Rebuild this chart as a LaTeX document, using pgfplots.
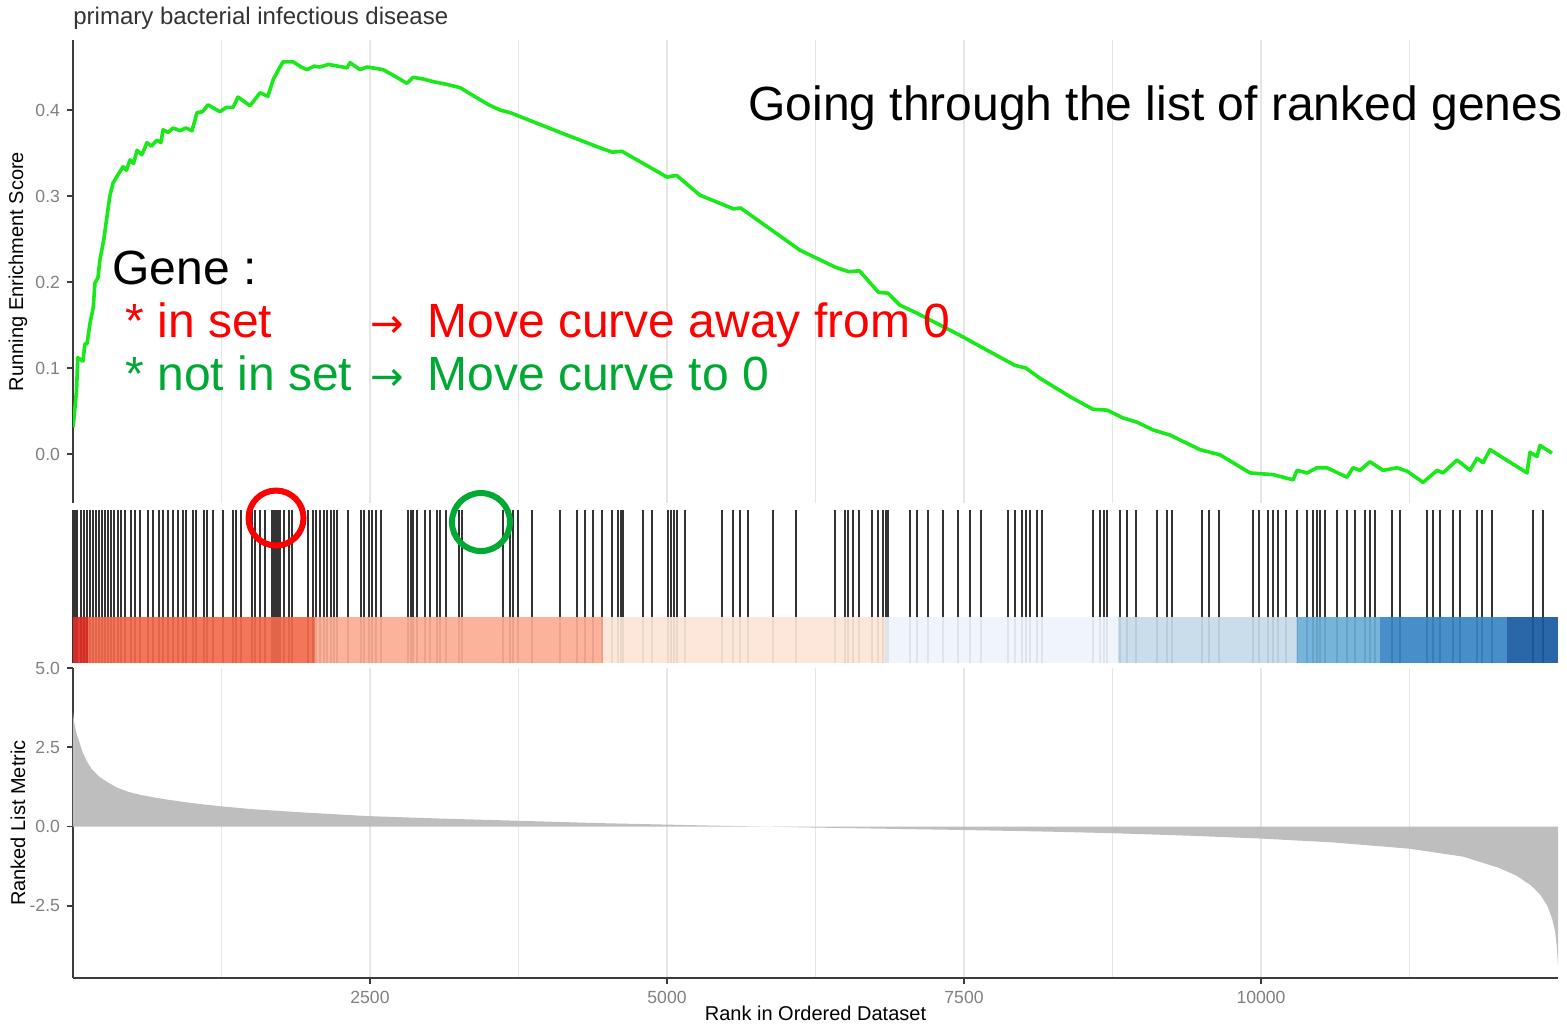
\documentclass[border=0pt]{standalone}
\usepackage{fontspec}
\setmainfont{Liberation Sans}
\newfontfamily\arrowfont{DejaVu Sans}
\usepackage{pgfplots}
\pgfplotsset{compat=1.18}
\definecolor{tickgray}{RGB}{128,128,128}
\definecolor{labgray}{RGB}{51,51,51}
\definecolor{axgray}{RGB}{60,60,60}
\definecolor{gridgray}{RGB}{230,230,230}
\definecolor{esgreen}{RGB}{25,232,25}
\definecolor{areagray}{RGB}{190,190,190}
\definecolor{annred}{RGB}{255,0,0}
\definecolor{anngreen}{RGB}{0,169,51}
\definecolor{b1}{RGB}{222,45,38}
\definecolor{b2}{RGB}{242,105,76}
\definecolor{b3}{RGB}{251,172,148}
\definecolor{b4}{RGB}{253,229,216}
\definecolor{b5}{RGB}{239,243,252}
\definecolor{b6}{RGB}{196,218,232}
\definecolor{b7}{RGB}{107,174,214}
\definecolor{b8}{RGB}{56,132,196}
\definecolor{b9}{RGB}{24,90,162}
\pgfplotsset{
  gsea/.style={
    scale only axis, width=742.5pt, anchor=south west,
    xmin=0, xmax=12500, scaled x ticks=false, scaled y ticks=false,
    /pgf/number format/assume math mode=true,
    tick label style={font=\fontsize{8.8}{10}\selectfont, text=tickgray},
    label style={font=\fontsize{10}{12}\selectfont, text=labgray},
    axis x line*=bottom, axis y line*=left,
    axis line style={-, draw=axgray, line width=0.9pt},
    tick style={draw=axgray, line width=0.8pt},
    tick align=outside, major tick length=3pt, minor tick length=0pt,
    xtick={2500,5000,7500,10000},
    minor xtick={1250,3750,6250,8750,11250},
    xmajorgrids, xminorgrids,
    major grid style={draw=gridgray, line width=0.6pt},
    minor grid style={draw=gridgray, line width=0.6pt},
    every axis y label/.style={at={(rel axis cs:-0.0370,0.5)}, rotate=90, anchor=center},
  }
}
\begin{document}
\begin{tikzpicture}
\useasboundingbox (0,0) rectangle (783.5pt,512pt);

% ---------- top panel: running enrichment score ----------
\begin{axis}[gsea, at={(36.5pt,260.5pt)}, height=231.5pt,
  ymin=-0.05698, ymax=0.4814,
  ytick={0,0.1,0.2,0.3,0.4}, yticklabels={0.0,0.1,0.2,0.3,0.4},
  xticklabels={}, major x tick style={draw=none},
  x axis line style={draw=none},
  ylabel={Running Enrichment Score},
]
\addplot[esgreen, line width=1.8pt, line join=round] coordinates {
(1,0.031)(30,0.074)(40,0.112)(84,0.108)(100,0.128)(118,0.128)(143,0.152)
(170,0.170)(185,0.199)(210,0.205)(227,0.226)(260,0.250)(286,0.276)(310,0.300)
(337,0.315)(380,0.325)(421,0.334)(450,0.330)(480,0.342)(510,0.338)(539,0.353)
(580,0.348)(623,0.362)(660,0.358)(707,0.365)(740,0.362)(758,0.377)(800,0.374)
(842,0.379)(900,0.376)(950,0.379)(1002,0.376)(1044,0.397)(1090,0.398)(1136,0.406)
(1237,0.398)(1290,0.403)(1347,0.403)(1389,0.415)(1490,0.405)(1530,0.412)(1574,0.420)
(1641,0.416)(1684,0.435)(1730,0.447)(1768,0.456)(1852,0.456)(1920,0.450)(1970,0.447)
(2030,0.451)(2079,0.450)(2150,0.453)(2189,0.452)(2270,0.450)(2306,0.449)(2332,0.455)
(2416,0.447)(2475,0.450)(2609,0.447)(2700,0.440)(2811,0.431)(2862,0.438)(2950,0.436)
(3030,0.433)(3140,0.430)(3258,0.426)(3401,0.414)(3500,0.406)(3594,0.400)(3678,0.397)
(4099,0.374)(4436,0.356)(4540,0.351)(4620,0.352)(5000,0.322)(5080,0.324)(5277,0.301)
(5560,0.285)(5620,0.286)(6119,0.237)(6420,0.217)(6530,0.212)(6620,0.213)(6780,0.188)
(6860,0.187)(6961,0.173)(7100,0.164)(7466,0.138)(7650,0.124)(7930,0.103)(8020,0.100)
(8140,0.088)(8400,0.066)(8586,0.052)(8704,0.051)(8838,0.042)(8956,0.037)(9091,0.028)
(9234,0.022)(9487,0.005)(9655,-0.001)(9907,-0.022)(10101,-0.024)(10270,-0.030)
(10303,-0.019)(10387,-0.022)(10471,-0.016)(10555,-0.016)(10724,-0.027)(10774,-0.016)
(10833,-0.019)(10917,-0.009)(11027,-0.019)(11145,-0.016)(11229,-0.020)(11364,-0.033)
(11482,-0.019)(11532,-0.022)(11650,-0.007)(11760,-0.019)(11818,-0.005)(11869,-0.010)
(11928,0.005)(12239,-0.022)(12264,0.002)(12323,-0.003)(12348,0.010)(12449,0.001)
};
\end{axis}

% ---------- middle panel: hits + colour band ----------
\begin{axis}[scale only axis, width=742.5pt, height=80pt, anchor=south west,
  at={(36.5pt,180.5pt)}, xmin=0, xmax=12500, ymin=0, ymax=1, hide axis, clip=false,
  scaled x ticks=false, scaled y ticks=false]
\addplot[ycomb, draw=black, opacity=0.8, line width=1.2pt, mark=none] coordinates {
(5,0.956)(17,0.956)(34,0.956)(67,0.956)(93,0.956)(118,0.956)(143,0.956)(168,0.956)
(194,0.956)(219,0.956)(244,0.956)(269,0.956)(295,0.956)(320,0.956)(345,0.956)(379,0.956)
(404,0.956)(438,0.956)(488,0.956)(522,0.956)(564,0.956)(631,0.956)(673,0.956)(724,0.956)
(758,0.956)(800,0.956)(842,0.956)(884,0.956)(926,0.956)(951,0.956)(1010,0.956)(1035,0.956)
(1103,0.956)(1128,0.956)(1178,0.956)(1263,0.956)(1347,0.956)(1372,0.956)(1414,0.956)
(1507,0.956)(1532,0.956)(1574,0.956)(1616,0.956)(1675,0.956)(1692,0.956)(1709,0.956)
(1726,0.956)(1742,0.956)(1776,0.956)(1818,0.956)(1844,0.956)(1978,0.956)(2020,0.956)
(2045,0.956)(2079,0.956)(2113,0.956)(2138,0.956)(2172,0.956)(2197,0.956)(2222,0.956)
(2315,0.956)(2424,0.956)(2449,0.956)(2492,0.956)(2517,0.956)(2551,0.956)(2593,0.956)
(2820,0.956)(2845,0.956)(2862,0.956)(2896,0.956)(2963,0.956)(3005,0.956)(3064,0.956)
(3089,0.956)(3140,0.956)(3249,0.956)(3274,0.956)(3620,0.956)(3678,0.956)(3704,0.956)
(3746,0.956)(3864,0.956)(4099,0.956)(4242,0.956)(4310,0.956)(4377,0.956)(4453,0.956)
(4537,0.956)(4588,0.956)(4613,0.956)(4630,0.956)(4798,0.956)(4874,0.956)(5008,0.956)
(5034,0.956)(5059,0.956)(5084,0.956)(5151,0.956)(5463,0.956)(5556,0.956)(5615,0.956)
(5682,0.956)(5892,0.956)(6086,0.956)(6414,0.956)(6498,0.956)(6524,0.956)(6566,0.956)
(6616,0.956)(6726,0.956)(6776,0.956)(6818,0.956)(6843,0.956)(6860,0.956)(7045,0.956)
(7104,0.956)(7197,0.956)(7323,0.956)(7449,0.956)(7550,0.956)(7643,0.956)(7870,0.956)
(7929,0.956)(7988,0.956)(8022,0.956)(8055,0.956)(8114,0.956)(8156,0.956)(8586,0.956)
(8645,0.956)(8678,0.956)(8704,0.956)(8813,0.956)(8872,0.956)(8948,0.956)(9125,0.956)
(9209,0.956)(9251,0.956)(9503,0.956)(9562,0.956)(9647,0.956)(9933,0.956)(9983,0.956)
(10059,0.956)(10101,0.956)(10143,0.956)(10210,0.956)(10303,0.956)(10387,0.956)
(10438,0.956)(10471,0.956)(10496,0.956)(10538,0.956)(10640,0.956)(10724,0.956)
(10791,0.956)(10875,0.956)(10917,0.956)(10960,0.956)(11103,0.956)(11170,0.956)
(11397,0.956)(11448,0.956)(11507,0.956)(11616,0.956)(11675,0.956)(11818,0.956)
(11860,0.956)(11944,0.956)(12289,0.956)(12373,0.956)
};
\addplot[fill=b1, draw=none, fill opacity=0.92] coordinates {(0,0)(0,0.2875)(126,0.2875)(126,0)} -- cycle;
\addplot[fill=b2, draw=none, fill opacity=0.92] coordinates {(126,0)(126,0.2875)(2037,0.2875)(2037,0)} -- cycle;
\addplot[fill=b3, draw=none, fill opacity=0.92] coordinates {(2037,0)(2037,0.2875)(4461,0.2875)(4461,0)} -- cycle;
\addplot[fill=b4, draw=none, fill opacity=0.92] coordinates {(4461,0)(4461,0.2875)(6835,0.2875)(6835,0)} -- cycle;
\addplot[fill=b5, draw=none, fill opacity=0.92] coordinates {(6835,0)(6835,0.2875)(8796,0.2875)(8796,0)} -- cycle;
\addplot[fill=b6, draw=none, fill opacity=0.92] coordinates {(8796,0)(8796,0.2875)(10303,0.2875)(10303,0)} -- cycle;
\addplot[fill=b7, draw=none, fill opacity=0.92] coordinates {(10303,0)(10303,0.2875)(11002,0.2875)(11002,0)} -- cycle;
\addplot[fill=b8, draw=none, fill opacity=0.92] coordinates {(11002,0)(11002,0.2875)(12071,0.2875)(12071,0)} -- cycle;
\addplot[fill=b9, draw=none, fill opacity=0.92] coordinates {(12071,0)(12071,0.2875)(12500,0.2875)(12500,0)} -- cycle;
\addplot[only marks, mark=o, mark size=13.75pt, mark options={line width=3pt, draw=annred}] coordinates {(1709,0.906)};
\addplot[only marks, mark=o, mark size=14.5pt, mark options={line width=3pt, draw=anngreen}] coordinates {(3434,0.881)};
\end{axis}

% ---------- bottom panel: ranked list metric ----------
\begin{axis}[gsea, at={(36.5pt,23pt)}, height=155pt,
  ymin=-4.778, ymax=5,
  ytick={-2.5,0,2.5,5}, yticklabels={-2.5,0.0,2.5,5.0},
  xticklabels={2500,5000,7500,10000},
  xlabel={Rank in Ordered Dataset},
  every axis x label/.style={at={(rel axis cs:0.5,-0.1129)}, anchor=center},
  ylabel={Ranked List Metric},
]
\addplot[fill=areagray, draw=none] coordinates {
(0,3.6)(10,3.3)(25,3.0)(50,2.7)(80,2.35)(118,2.05)(160,1.8)(227,1.55)(300,1.38)
(370,1.23)(460,1.1)(564,1.0)(680,0.92)(790,0.85)(1000,0.74)(1237,0.64)(1500,0.55)
(1910,0.45)(2475,0.33)(3100,0.25)(3763,0.18)(4400,0.11)(5000,0.06)(5500,0.02)
(5800,0.0)(6200,-0.03)(7000,-0.08)(7500,-0.11)(8200,-0.16)(8750,-0.21)(9400,-0.29)
(10000,-0.38)(10600,-0.5)(11250,-0.7)(11700,-0.95)(12000,-1.3)(12150,-1.55)
(12270,-1.85)(12350,-2.15)(12410,-2.5)(12450,-2.9)(12475,-3.3)(12490,-3.8)(12500,-4.4)
} \closedcycle;
\end{axis}

% ---------- title and slide annotations ----------
\node[anchor=base west, inner sep=0pt, font=\fontsize{12}{14}\selectfont, text=labgray] at (36.5pt,499.5pt) {primary bacterial infectious disease};
\node[anchor=base west, inner sep=0pt, font=\fontsize{24}{28}\selectfont] at (374pt,451.5pt) {Going through the list of ranked genes};
\node[anchor=base west, inner sep=0pt, font=\fontsize{24}{28}\selectfont] at (56pt,369.5pt) {Gene :};
\node[anchor=base west, inner sep=0pt, font=\fontsize{24}{28}\selectfont, text=annred] at (62.5pt,343pt) {* in set};
\node[anchor=base west, inner sep=0pt, font=\fontsize{24}{28}\selectfont, text=anngreen] at (62.5pt,316.5pt) {* not in set};
\node[anchor=base west, inner sep=0pt, font=\arrowfont\fontsize{20}{24}\selectfont, text=annred] at (185pt,343pt) {→};
\node[anchor=base west, inner sep=0pt, font=\arrowfont\fontsize{20}{24}\selectfont, text=anngreen] at (185pt,316.5pt) {→};
\node[anchor=base west, inner sep=0pt, font=\fontsize{24}{28}\selectfont, text=annred] at (213.5pt,343pt) {Move curve away from 0};
\node[anchor=base west, inner sep=0pt, font=\fontsize{24}{28}\selectfont, text=anngreen] at (213.5pt,316.5pt) {Move curve to 0};
\end{tikzpicture}
\end{document}
